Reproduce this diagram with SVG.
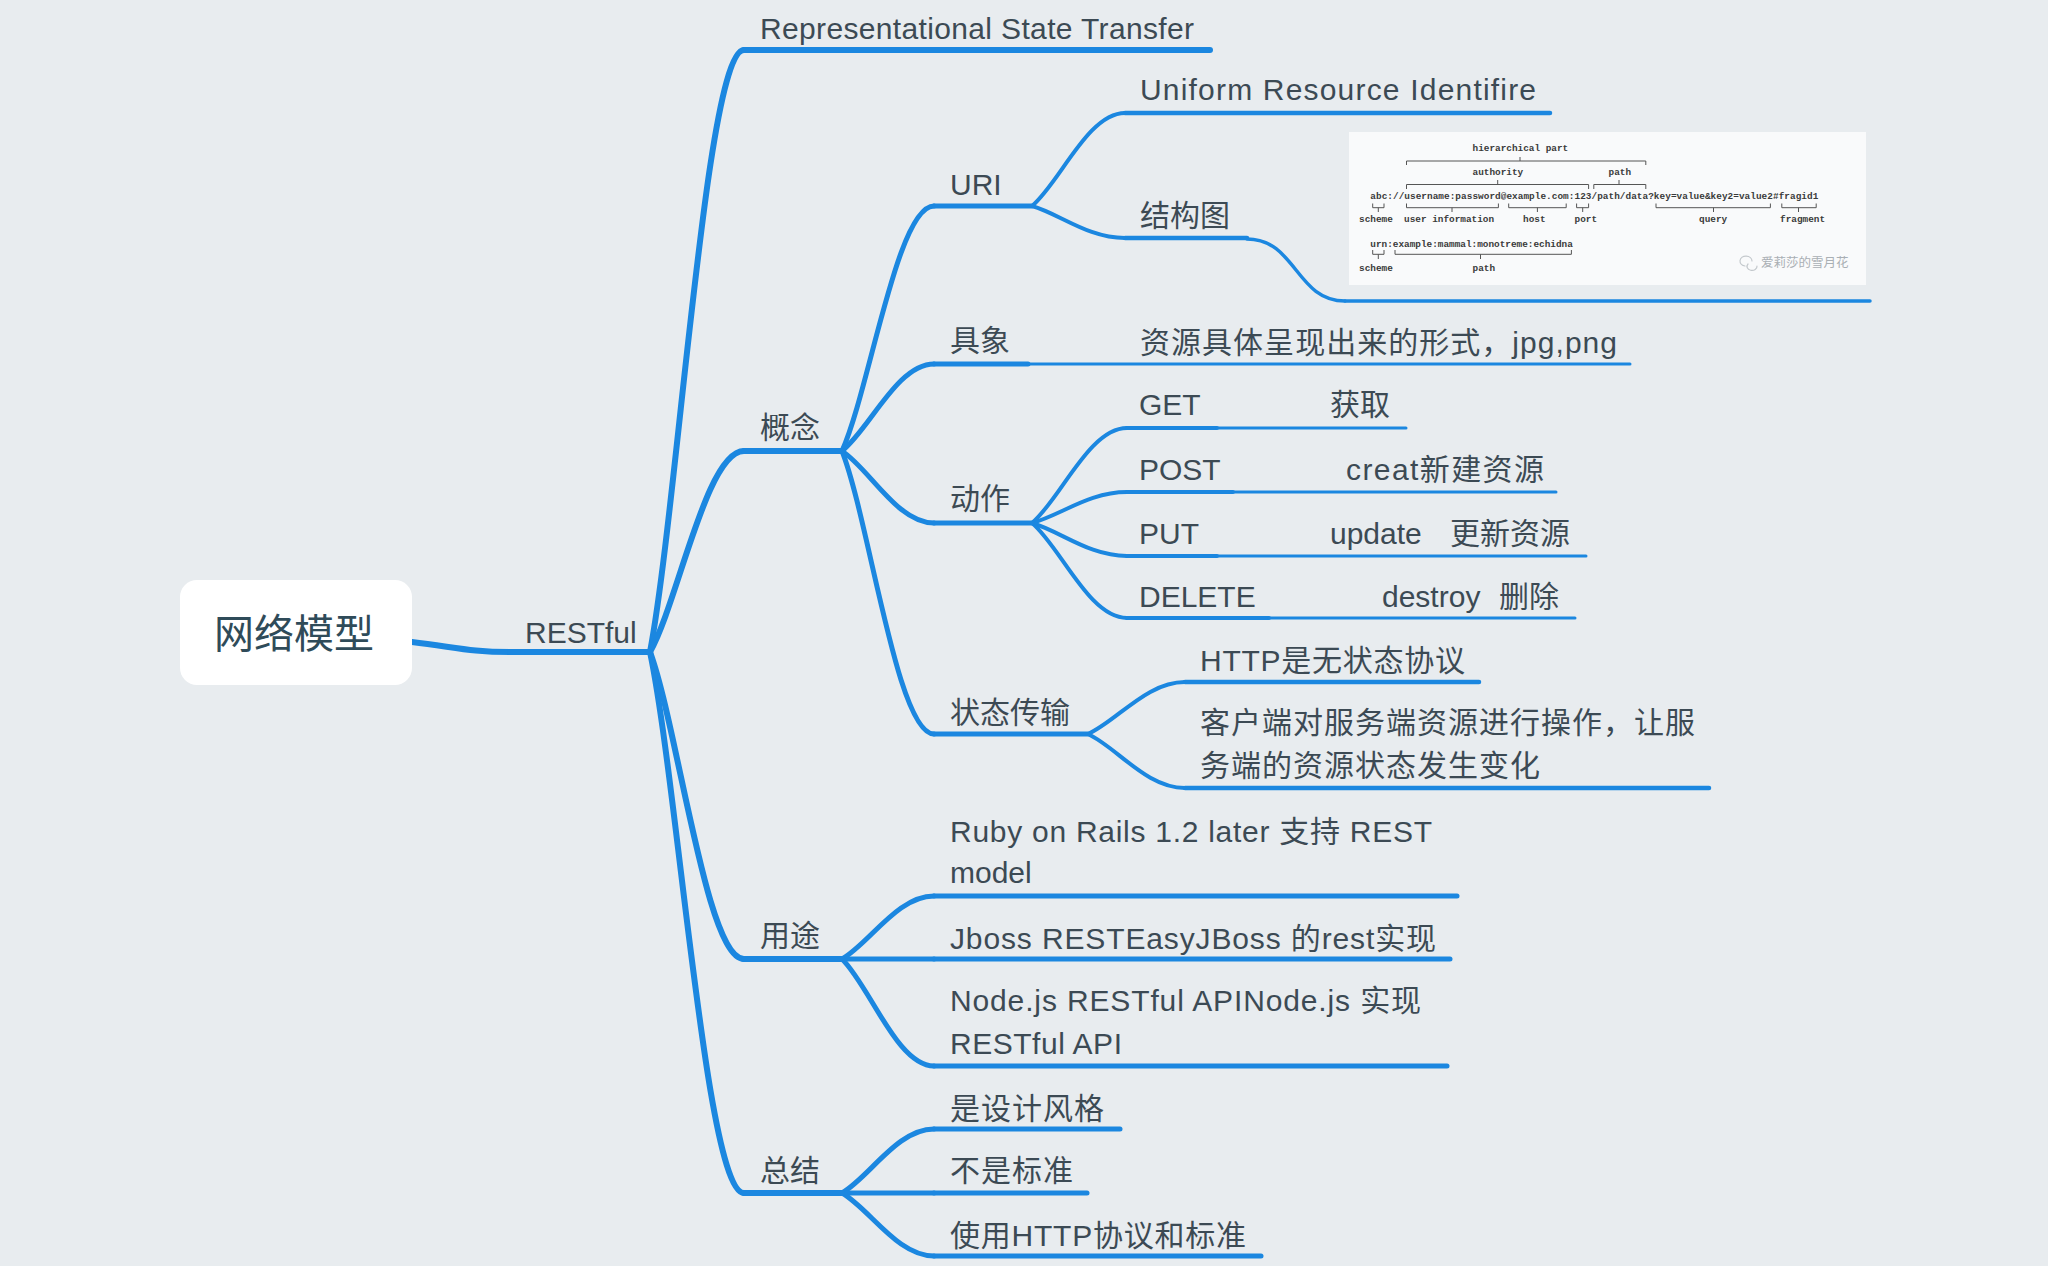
<svg xmlns="http://www.w3.org/2000/svg" width="2048" height="1266" viewBox="0 0 2048 1266">
<style>
.t{font-family:"Liberation Sans","Noto Sans CJK SC",sans-serif;font-size:30px;fill:#3c4a54}
.root{font-family:"Liberation Sans","Noto Sans CJK SC",sans-serif;font-size:40px;fill:#2f4b59}
.m{font-family:"Liberation Mono",monospace;font-size:9.4px;font-weight:bold;fill:#3a3a3a}
.wm{font-family:"Noto Sans CJK SC",sans-serif;font-size:12.5px;fill:#a9afb4}
path,line{fill:none;stroke:#1b87e0;stroke-linecap:round}
.w6{stroke-width:6}
.w5{stroke-width:5}
.w45{stroke-width:4.5}
.w4{stroke-width:4}
.w35{stroke-width:3.5}
.w3{stroke-width:3}
.br{stroke:#555;stroke-width:1;stroke-linecap:butt}
</style>
<rect width="2048" height="1266" fill="#e8ecef"/>

<g id="connectors">
<path class="w6" d="M412 642 C455 647 470 652 510 652"/>
<path class="w6" d="M650 652 C678.2 501.5 706.4 50 744 50"/>
<path class="w6" d="M650 652 C678.2 601.75 706.4 451 744 451"/>
<path class="w6" d="M650 652 C678.2 728.75 706.4 959 744 959"/>
<path class="w6" d="M650 652 C678.2 787.25 706.4 1193 744 1193"/>
<path class="w5" d="M842 451 C869.6 389.75 897.2 206 934 206"/>
<path class="w5" d="M842 451 C869.6 429.25 897.2 364 934 364"/>
<path class="w5" d="M842 451 C869.6 469 897.2 523 934 523"/>
<path class="w5" d="M842 451 C869.6 521.75 897.2 734 934 734"/>
<path class="w5" d="M842 959 C869.6 943.25 897.2 896 934 896"/>
<path class="w5" d="M842 959 L934 959"/>
<path class="w5" d="M842 959 C869.6 985.75 897.2 1066 934 1066"/>
<path class="w5" d="M842 1193 C869.6 1177 897.2 1129 934 1129"/>
<path class="w5" d="M842 1193 L934 1193"/>
<path class="w5" d="M842 1193 C869.6 1208.75 897.2 1256 934 1256"/>
<path class="w4" d="M1032 206 C1059.9 182.75 1087.8 113 1125 113"/>
<path class="w4" d="M1032 206 C1059.9 214 1087.8 238 1125 238"/>
<path class="w4" d="M1032 523 C1060.5 499.25 1089 428 1127 428"/>
<path class="w4" d="M1032 523 C1060.5 515.25 1089 492 1127 492"/>
<path class="w4" d="M1032 523 C1060.5 531.25 1089 556 1127 556"/>
<path class="w4" d="M1032 523 C1060.5 546.75 1089 618 1127 618"/>
<path class="w4" d="M1088 734 C1117.1 721 1146.2 682 1185 682"/>
<path class="w4" d="M1088 734 C1117.1 747.5 1146.2 788 1185 788"/>
<path class="w35" d="M1247 239 C1296 239 1296 301 1345 301"/>
</g>

<g id="node-root">
<rect x="180" y="580" width="232" height="105" rx="17" fill="#ffffff"/>
<text class="root" x="294" y="648" text-anchor="middle">网络模型</text>
</g>

<g id="node-restful">
<line class="w6" x1="510" y1="652" x2="650" y2="652"/>
<text class="t" x="525" y="643">RESTful</text>
</g>

<g id="node-rest-def">
<line class="w6" x1="744" y1="50" x2="1210" y2="50"/>
<text class="t" x="760" y="39" textLength="434">Representational State Transfer</text>
</g>

<g id="node-gainian">
<line class="w6" x1="744" y1="451" x2="842" y2="451"/>
<text class="t" x="760" y="438">概念</text>
</g>

<g id="node-yongtu">
<line class="w6" x1="744" y1="959" x2="842" y2="959"/>
<text class="t" x="760" y="946">用途</text>
</g>

<g id="node-zongjie">
<line class="w6" x1="744" y1="1193" x2="842" y2="1193"/>
<text class="t" x="760" y="1181">总结</text>
</g>

<g id="node-uri">
<line class="w5" x1="934" y1="206" x2="1032" y2="206"/>
<text class="t" x="950" y="195">URI</text>
</g>

<g id="node-juxiang">
<line class="w5" x1="934" y1="364" x2="1028" y2="364"/>
<text class="t" x="950" y="351">具象</text>
</g>

<g id="node-dongzuo">
<line class="w5" x1="934" y1="523" x2="1032" y2="523"/>
<text class="t" x="950" y="509">动作</text>
</g>

<g id="node-zhuangtai">
<line class="w5" x1="934" y1="734" x2="1088" y2="734"/>
<text class="t" x="950" y="723">状态传输</text>
</g>

<g id="node-ruby">
<line class="w5" x1="934" y1="896" x2="1457" y2="896"/>
<text class="t" x="950" y="842" textLength="482">Ruby on Rails 1.2 later 支持 REST</text>
<text class="t" x="950" y="883">model</text>
</g>

<g id="node-jboss">
<line class="w5" x1="934" y1="959" x2="1450" y2="959"/>
<text class="t" x="950" y="949" textLength="486">Jboss RESTEasyJBoss 的rest实现</text>
</g>

<g id="node-nodejs">
<line class="w5" x1="934" y1="1066" x2="1447" y2="1066"/>
<text class="t" x="950" y="1011" textLength="471">Node.js RESTful APINode.js 实现</text>
<text class="t" x="950" y="1054" textLength="172">RESTful API</text>
</g>

<g id="node-sheji">
<line class="w5" x1="934" y1="1129" x2="1120" y2="1129"/>
<text class="t" x="950" y="1119" textLength="154">是设计风格</text>
</g>

<g id="node-biaozhun">
<line class="w5" x1="934" y1="1193" x2="1087" y2="1193"/>
<text class="t" x="950" y="1181" textLength="123">不是标准</text>
</g>

<g id="node-http-std">
<line class="w5" x1="934" y1="1256" x2="1261" y2="1256"/>
<text class="t" x="950" y="1246" textLength="296">使用HTTP协议和标准</text>
</g>

<g id="node-uniform">
<line class="w45" x1="1125" y1="113" x2="1550" y2="113"/>
<text class="t" x="1140" y="100" textLength="396">Uniform Resource Identifire</text>
</g>

<g id="node-jiegoutu">
<line class="w45" x1="1125" y1="238" x2="1247" y2="238"/>
<text class="t" x="1140" y="226">结构图</text>
</g>

<g id="node-uri-image">
<line class="w35" x1="1345" y1="301" x2="1870" y2="301"/>
<rect x="1349" y="132" width="517" height="153" fill="#f9fafb"/>
<text class="m" x="1472.6" y="151">hierarchical part</text>
<text class="m" x="1472.6" y="175">authority</text>
<text class="m" x="1608.6" y="175">path</text>
<path class="br" d="M1406.5 165 V161 H1645.8 V165 M1520 161 V157"/>
<path class="br" d="M1406.5 189 V184.5 H1588.6 V189 M1497.7 184.5 V180"/>
<path class="br" d="M1593.8 189 V184.5 H1645.8 V189 M1619 184.5 V180"/>
<text class="m" x="1370.3" y="199" textLength="448">abc://username:password@example.com:123/path/data?key=value&amp;key2=value2#fragid1</text>
<path class="br" d="M1372.7 203.5 V207.7 H1384 V203.5 M1378.3 207.7 V212"/>
<path class="br" d="M1406.5 203.5 V207.7 H1498.4 V203.5 M1452 207.7 V212"/>
<path class="br" d="M1508.7 203.5 V207.7 H1566.2 V203.5 M1537.4 207.7 V212"/>
<path class="br" d="M1576.6 203.5 V207.7 H1588.6 V203.5 M1582.7 207.7 V212"/>
<path class="br" d="M1656 203.5 V207.7 H1770.4 V203.5 M1713.5 207.7 V212"/>
<path class="br" d="M1781.8 203.5 V207.7 H1816.2 V203.5 M1798.5 207.7 V212"/>
<text class="m" x="1359" y="222">scheme</text>
<text class="m" x="1404" y="222">user information</text>
<text class="m" x="1523" y="222">host</text>
<text class="m" x="1574.5" y="222">port</text>
<text class="m" x="1699" y="222">query</text>
<text class="m" x="1780" y="222">fragment</text>
<text class="m" x="1370.3" y="246.5">urn:example:mammal:monotreme:echidna</text>
<path class="br" d="M1372.7 250 V254.3 H1384 V250 M1378.3 254.3 V259"/>
<path class="br" d="M1395 250 V254.3 H1571.4 V250 M1480.5 254.3 V259"/>
<text class="m" x="1359" y="270.5">scheme</text>
<text class="m" x="1472.6" y="270.5">path</text>
<path d="M1745 266 A6 5 0 1 1 1752 261 M1748 264 A5 4 0 1 0 1757 266" style="stroke:#c3c8cc;stroke-width:1.2"/>
<text class="wm" x="1761" y="266.5">爱莉莎的雪月花</text>
</g>

<g id="node-juxiang-desc">
<line class="w3" x1="1028" y1="364" x2="1630" y2="364"/>
<text class="t" x="1140" y="353" textLength="477">资源具体呈现出来的形式，jpg,png</text>
</g>

<g id="node-get">
<line class="w4" x1="1127" y1="428" x2="1217" y2="428"/>
<line class="w3" x1="1217" y1="428" x2="1406" y2="428"/>
<text class="t" x="1139" y="415">GET<tspan x="1330">获取</tspan></text>
</g>

<g id="node-post">
<line class="w4" x1="1127" y1="492" x2="1233" y2="492"/>
<line class="w3" x1="1233" y1="492" x2="1556" y2="492"/>
<text class="t" x="1139" y="480">POST</text>
<text class="t" x="1346" y="480" textLength="198">creat新建资源</text>
</g>

<g id="node-put">
<line class="w4" x1="1127" y1="556" x2="1217" y2="556"/>
<line class="w3" x1="1217" y1="556" x2="1586" y2="556"/>
<text class="t" x="1139" y="544">PUT<tspan x="1330">update</tspan><tspan x="1450">更新资源</tspan></text>
</g>

<g id="node-delete">
<line class="w4" x1="1127" y1="618" x2="1269" y2="618"/>
<line class="w3" x1="1269" y1="618" x2="1575" y2="618"/>
<text class="t" x="1139" y="607">DELETE<tspan x="1382">destroy</tspan><tspan x="1499">删除</tspan></text>
</g>

<g id="node-stateless">
<line class="w45" x1="1185" y1="682" x2="1479" y2="682"/>
<text class="t" x="1200" y="671" textLength="265">HTTP是无状态协议</text>
</g>

<g id="node-client">
<line class="w45" x1="1185" y1="788" x2="1709" y2="788"/>
<text class="t" x="1200" y="733" textLength="495">客户端对服务端资源进行操作，让服</text>
<text class="t" x="1200" y="776" textLength="340">务端的资源状态发生变化</text>
</g>
</svg>
